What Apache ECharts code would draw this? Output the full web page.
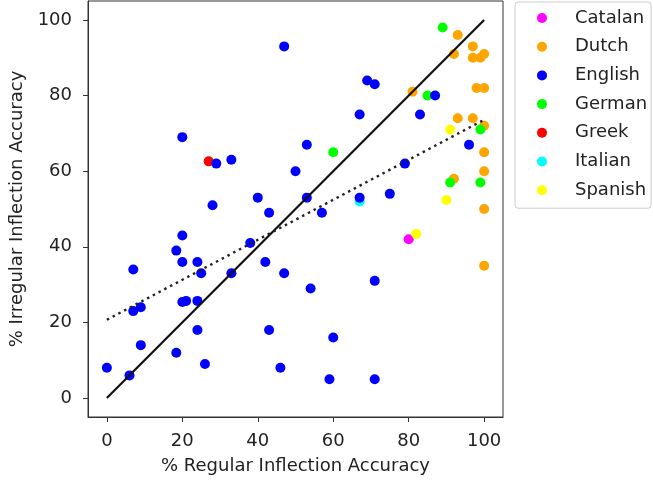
<!DOCTYPE html>
<html>
<head>
<meta charset="utf-8">
<script src="https://cdn.jsdelivr.net/npm/echarts@6/dist/echarts.min.js"></script>
<style>
html, body { margin: 0; padding: 0; background: #fff; }
#container { width: 653px; height: 481px; }
</style>
</head>
<body>
<div id="container"></div>
<script>
var languages = ['Catalan', 'Dutch', 'English', 'German', 'Greek', 'Italian', 'Spanish'];
var colors = ['#ff00ff', '#ffa500', '#0000ff', '#00ff00', '#ff0000', '#00ffff', '#ffff00'];

// [regular accuracy, irregular accuracy]
var catalan = [[80, 42]];
var dutch = [[93, 96], [97, 93], [92, 91], [97, 90], [99, 90], [100, 91], [98, 82], [100, 82], [81, 81],
    [93, 74], [97, 74], [100, 72], [100, 65], [100, 60], [92, 58], [100, 50], [100, 35]];
var english = [[47, 93], [0, 8], [6, 6], [7, 34], [7, 23], [9, 24], [9, 14], [18.4, 12], [18.4, 39],
    [20, 69], [20, 43], [20, 36], [20, 25.4], [21, 25.7], [24, 36], [24, 25.7], [24, 18], [25, 33],
    [26, 9], [29, 62], [28, 51], [33, 63], [33, 33], [38, 41], [40, 53], [42, 36], [43, 49], [43, 18],
    [46, 8], [47, 33], [50, 60], [53, 67], [53, 53], [54, 29], [57, 49], [59, 5], [60, 16], [67, 75],
    [67, 53], [69, 84], [71, 83], [71, 31], [71, 5], [75, 54], [79, 62], [83, 75], [87, 80], [96, 67]];
var german = [[89, 98], [85, 80], [99, 71], [60, 65], [91, 57], [99, 57]];
var greek = [[27, 62.6]];
var italian = [[67, 52]];
var spanish = [[91, 71], [90, 52.4], [82, 43.4]];
var groups = [catalan, dutch, english, german, greek, italian, spanish];

var ticks = [0, 20, 40, 60, 80, 100];
var diagonal = [[0, 0], [100, 100]];
var trend = [[0, 20.7], [100, 73.6]];

var font = 'DejaVu Sans';
var ink = '#222';

var myChart = echarts.init(document.getElementById('container'));

var series = [];
for (var i = 0; i < languages.length; i++) {
    series.push({
        name: languages[i],
        type: 'scatter',
        symbol: 'circle',
        symbolSize: 10,
        z: languages[i] == 'English' ? 3 : 2,
        itemStyle: { color: colors[i], opacity: 1 },
        data: groups[i]
    });
}
series.push({
    name: 'identity',
    type: 'line',
    z: 4,
    symbol: 'none',
    lineStyle: { color: '#111', width: 2.2 },
    data: diagonal
});
series.push({
    name: 'fit',
    type: 'line',
    z: 4,
    symbol: 'none',
    lineStyle: { color: '#222', width: 2.4, type: [2.5, 4] },
    data: trend
});

function axis(name, gap) {
    return {
        type: 'value',
        min: -5,
        max: 105,
        name: name,
        nameLocation: 'middle',
        nameGap: gap,
        nameTextStyle: { fontFamily: font, fontSize: 18, color: ink },
        splitLine: { show: false },
        axisLine: { show: true, onZero: false, lineStyle: { color: '#333', width: 1 } },
        axisTick: { show: true, length: 5, customValues: ticks, lineStyle: { color: '#333', width: 1 } },
        axisLabel: { customValues: ticks, fontFamily: font, fontSize: 18, color: ink }
    };
}

var xAxis = axis('% Regular Inflection Accuracy', 40);
xAxis.axisLabel.margin = 15;
var yAxis = axis('% Irregular Inflection Accuracy', 58);
yAxis.axisLabel.margin = 16;

var option = {
    animation: false,
    backgroundColor: '#fff',
    grid: {
        left: 88, top: 1, width: 415, height: 416,
        show: true, borderColor: '#333', borderWidth: 1,
        containLabel: false
    },
    legend: {
        data: languages,
        orient: 'vertical',
        left: 515,
        top: 2,
        icon: 'circle',
        itemWidth: 10,
        itemHeight: 10,
        itemGap: 8.7,
        padding: [6, 4, 8, 22],
        borderColor: '#ccc',
        borderWidth: 1,
        borderRadius: 3,
        textStyle: { fontFamily: font, fontSize: 18, color: ink, lineHeight: 20, padding: [0, 0, 0, 23] }
    },
    xAxis: xAxis,
    yAxis: yAxis,
    series: series
};

myChart.setOption(option);
</script>
</body>
</html>
